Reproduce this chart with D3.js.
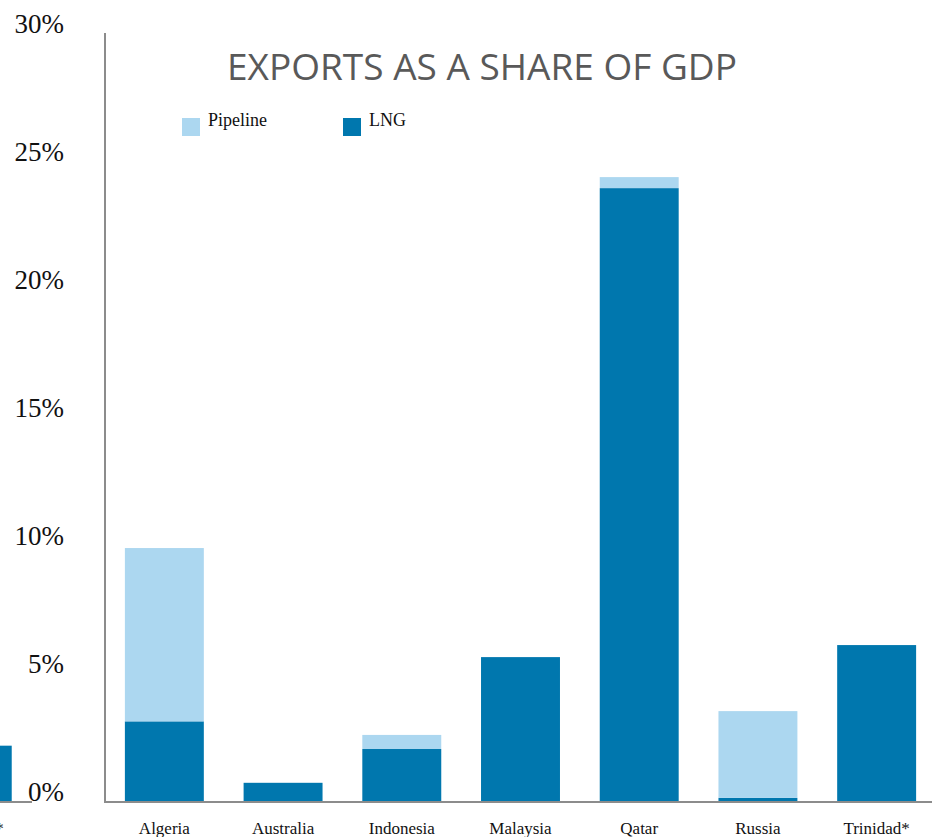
<!DOCTYPE html>
<html>
<head>
<meta charset="utf-8">
<script src="https://cdn.jsdelivr.net/npm/d3@7"></script>
<style>
  body { margin: 0; background: #fff; }
  svg { display: block; }
</style>
</head>
<body>
<script>
// data (percent of GDP)
var countries = ['Algeria', 'Australia', 'Indonesia', 'Malaysia', 'Qatar', 'Russia', 'Trinidad*'];
var lng      = [3.15, 0.75, 2.07, 5.66, 23.98, 0.16, 6.13];
var pipeline = [6.77, 0, 0.55, 0, 0.43, 3.39, 0];
var yTicks = [0, 5, 10, 15, 20, 25, 30];
// right edge of the neighbouring panel that shows at the left side of the picture
var prevCountries = ['Trinidad*'];
var prevLng = [2.2];

var W = 932, H = 837;
var colors = { lng: '#0077ae', pipeline: '#acd7f0', axis: '#8c8c8c' };
var serif = '"Liberation Serif", "DejaVu Serif", serif';

var svg = d3.select('body').append('svg').attr('width', W).attr('height', H);

var y = d3.scaleLinear().domain([0, 30]).range([802, 34]);
var x = d3.scaleBand().domain(countries).range([105, 936]).paddingInner(0.335).paddingOuter(0.1675);
var xPrev = d3.scaleBand().domain(prevCountries).range([-99, 34]).paddingInner(0.335).paddingOuter(0.1675);

var rows = countries.map(function (c, i) {
    return { country: c, lng: lng[i], pipeline: pipeline[i] };
});
var stack = d3.stack().keys(['lng', 'pipeline'])(rows);

// neighbouring panel fragment
svg.append('g').selectAll('rect')
    .data(prevCountries)
    .join('rect')
    .attr('x', function (d) { return xPrev(d); })
    .attr('width', xPrev.bandwidth())
    .attr('y', function (d, i) { return y(prevLng[i]); })
    .attr('height', function (d, i) { return y(0) - y(prevLng[i]); })
    .attr('fill', colors.lng);
svg.append('line')
    .attr('x1', 0).attr('x2', 32).attr('y1', y(0)).attr('y2', y(0))
    .attr('stroke', colors.axis).attr('stroke-width', 2);
svg.append('g').selectAll('text')
    .data(prevCountries)
    .join('text')
    .attr('x', function (d) { return xPrev(d) + xPrev.bandwidth() / 2 + 3; })
    .attr('y', 834)
    .attr('text-anchor', 'middle')
    .attr('font-family', serif).attr('font-size', 17).attr('fill', '#111')
    .text(function (d) { return d; });

// bars
svg.append('g').selectAll('g')
    .data(stack)
    .join('g')
    .attr('fill', function (s) { return colors[s.key]; })
    .selectAll('rect')
    .data(function (s) { return s; })
    .join('rect')
    .attr('x', function (d) { return x(d.data.country); })
    .attr('width', x.bandwidth())
    .attr('y', function (d) { return y(d[1]); })
    .attr('height', function (d) { return y(d[0]) - y(d[1]); });

// axes
svg.append('line')
    .attr('x1', 105).attr('x2', 105).attr('y1', 33).attr('y2', y(0))
    .attr('stroke', colors.axis).attr('stroke-width', 2);
svg.append('line')
    .attr('x1', 104).attr('x2', W).attr('y1', y(0)).attr('y2', y(0))
    .attr('stroke', colors.axis).attr('stroke-width', 2);

svg.append('g').selectAll('text')
    .data(yTicks)
    .join('text')
    .attr('x', 64)
    .attr('y', function (d) { return y(d) - 1; })
    .attr('text-anchor', 'end')
    .attr('font-family', serif).attr('font-size', 27).attr('fill', '#111')
    .text(function (d) { return d + '%'; });

svg.append('g').selectAll('text')
    .data(countries)
    .join('text')
    .attr('x', function (d) { return x(d) + x.bandwidth() / 2; })
    .attr('y', 834)
    .attr('text-anchor', 'middle')
    .attr('font-family', serif).attr('font-size', 17).attr('fill', '#111')
    .text(function (d) { return d; });

// title
svg.append('text')
    .attr('x', 482).attr('y', 80)
    .attr('text-anchor', 'middle')
    .attr('font-family', '"Open Sans", sans-serif')
    .attr('font-size', 37).attr('fill', '#595959')
    .text('EXPORTS AS A SHARE OF GDP');

// legend
var legend = [
    { key: 'pipeline', label: 'Pipeline', x: 182 },
    { key: 'lng', label: 'LNG', x: 343 }
];
var lg = svg.append('g').selectAll('g').data(legend).join('g')
    .attr('transform', function (d) { return 'translate(' + d.x + ',118)'; });
lg.append('rect').attr('width', 18).attr('height', 18)
    .attr('fill', function (d) { return colors[d.key]; });
lg.append('text').attr('x', 26).attr('y', 8)
    .attr('font-family', serif).attr('font-size', 18).attr('fill', '#111')
    .text(function (d) { return d.label; });
</script>
</body>
</html>
